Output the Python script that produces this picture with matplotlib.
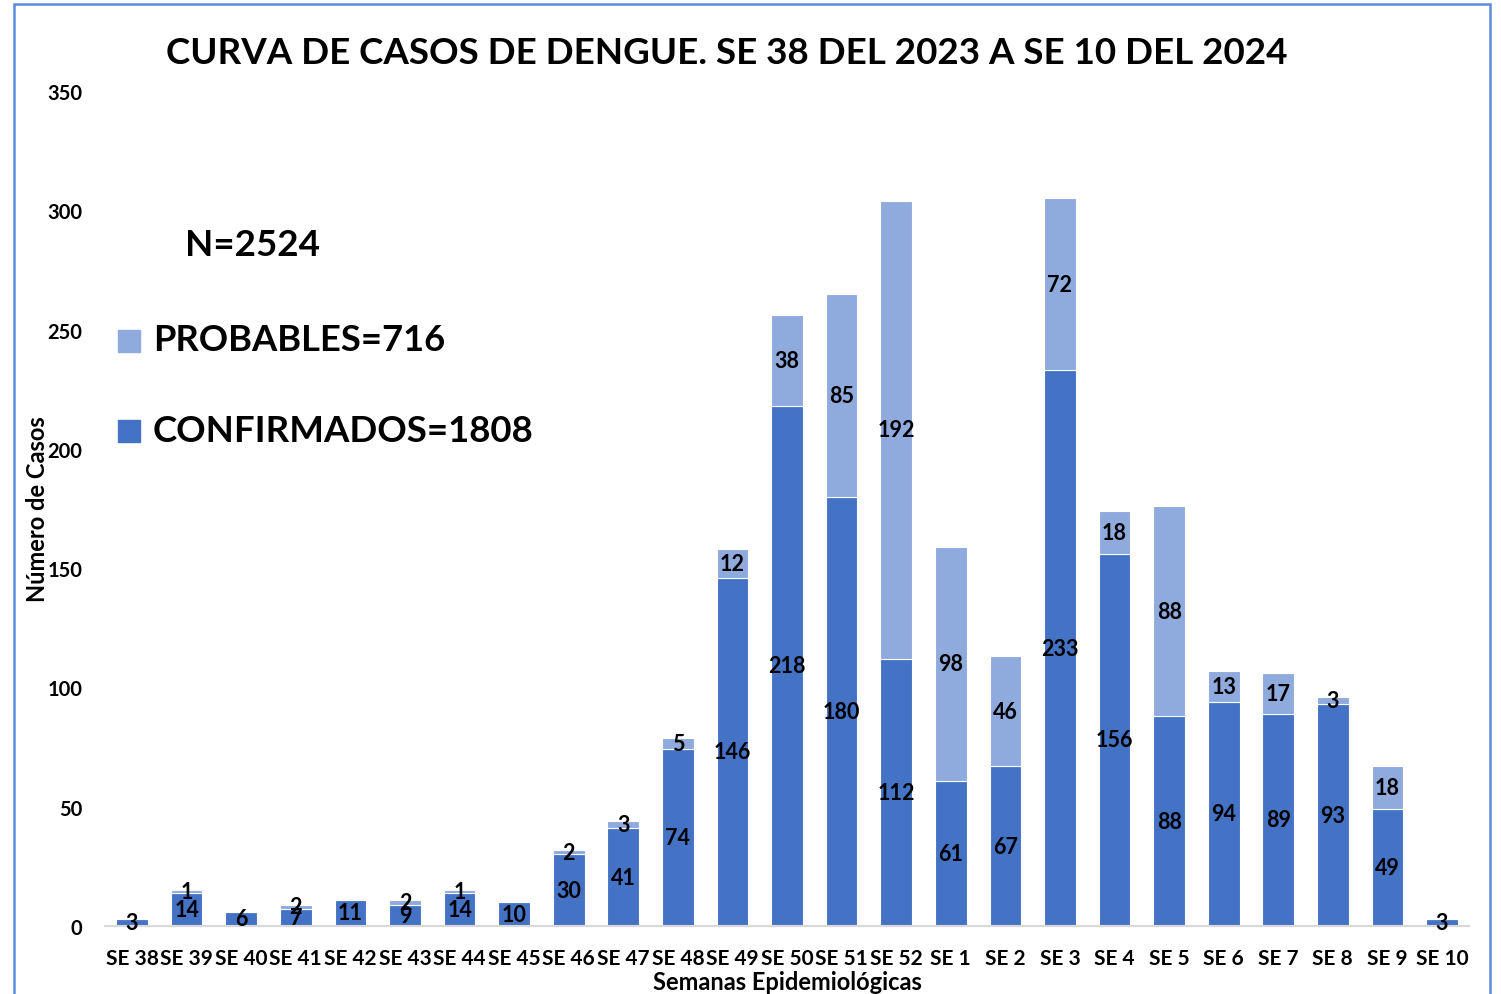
import matplotlib
matplotlib.use("Agg")
import matplotlib.pyplot as plt
from matplotlib.patches import Rectangle

plt.rcParams['font.family'] = ['Lato', 'DejaVu Sans']

semanas = ["SE 38", "SE 39", "SE 40", "SE 41", "SE 42", "SE 43", "SE 44", "SE 45",
           "SE 46", "SE 47", "SE 48", "SE 49", "SE 50", "SE 51", "SE 52", "SE 1",
           "SE 2", "SE 3", "SE 4", "SE 5", "SE 6", "SE 7", "SE 8", "SE 9", "SE 10"]
confirmados = [3, 14, 6, 7, 11, 9, 14, 10, 30, 41, 74, 146, 218, 180, 112, 61,
               67, 233, 156, 88, 94, 89, 93, 49, 3]
probables = [0, 1, 0, 2, 0, 2, 1, 0, 2, 3, 5, 12, 38, 85, 192, 98,
             46, 72, 18, 88, 13, 17, 3, 18, 0]
y_ticks = [0, 50, 100, 150, 200, 250, 300, 350]

C_DARK = "#4472C4"
C_LIGHT = "#8FAADC"

fig = plt.figure(figsize=(15.01, 9.95), dpi=100)
ax = fig.add_axes([0.0698, 0.0683, 0.9091, 0.8392])

x = list(range(len(semanas)))
w = 0.58
ax.bar(x, confirmados, width=w, color=C_DARK, edgecolor="white", linewidth=0.8)
ax.bar(x, probables, width=w, bottom=confirmados, color=C_LIGHT,
       edgecolor="white", linewidth=0.8)

for i in x:
    c = confirmados[i]
    p = probables[i]
    ax.text(i, c / 2, str(c), ha="center", va="center", fontsize=15.5,
            fontweight="bold", color="black")
    if p > 0:
        ax.text(i, c + p / 2, str(p), ha="center", va="center", fontsize=15.5,
                fontweight="bold", color="black")

ax.set_xlim(-0.5, len(semanas) - 0.5)
ax.set_ylim(0, 350)
ax.set_yticks(y_ticks)
ax.set_yticklabels([str(t) for t in y_ticks], fontsize=14.5, fontweight="bold")
ax.set_xticks(x)
ax.set_xticklabels(semanas, fontsize=15, fontweight="bold")
ax.tick_params(axis="both", length=0)
ax.tick_params(axis="y", pad=16)
ax.tick_params(axis="x", pad=16)
for s in ["top", "right", "left"]:
    ax.spines[s].set_visible(False)
ax.spines["bottom"].set_color("#D9D9D9")
ax.spines["bottom"].set_linewidth(1.5)

ax.set_xlabel("Semanas Epidemiológicas", fontsize=17, fontweight="bold", labelpad=0)
ax.set_ylabel("Número de Casos", fontsize=17, fontweight="bold", labelpad=0)
ax.xaxis.set_label_coords(0.5, -0.066)
ax.yaxis.set_label_coords(-0.049, 0.5)
ax.xaxis.label.set_va("center")
ax.yaxis.label.set_va("center")

fig.text(0.484, 0.946, "CURVA DE CASOS DE DENGUE. SE 38 DEL 2023 A SE 10 DEL 2024",
         ha="center", va="center", fontsize=26.5, fontweight="bold")

# Legend / annotations
fig.text(185 / 1501, 1 - 245 / 995, "N=2524", ha="left", va="center",
         fontsize=26.5, fontweight="bold")
fig.text(153 / 1501, 1 - 341 / 995, "PROBABLES=716", ha="left", va="center",
         fontsize=26.2, fontweight="bold")
fig.text(153 / 1501, 1 - 431 / 995, "CONFIRMADOS=1808", ha="left", va="center",
         fontsize=26.4, fontweight="bold")
fig.patches.append(Rectangle((118 / 1501, 1 - 353 / 995), 22 / 1501, 22 / 995,
                             transform=fig.transFigure, color=C_LIGHT))
fig.patches.append(Rectangle((118 / 1501, 1 - 443 / 995), 22 / 1501, 22 / 995,
                             transform=fig.transFigure, color=C_DARK))

# Frame border
fig.patches.append(Rectangle((14 / 1501, -0.05), (1490 - 14) / 1501, 1.05 - 5 / 995,
                             transform=fig.transFigure, fill=False,
                             edgecolor="#5B8BD9", linewidth=1.8))

fig.savefig("out.png", dpi=100)
